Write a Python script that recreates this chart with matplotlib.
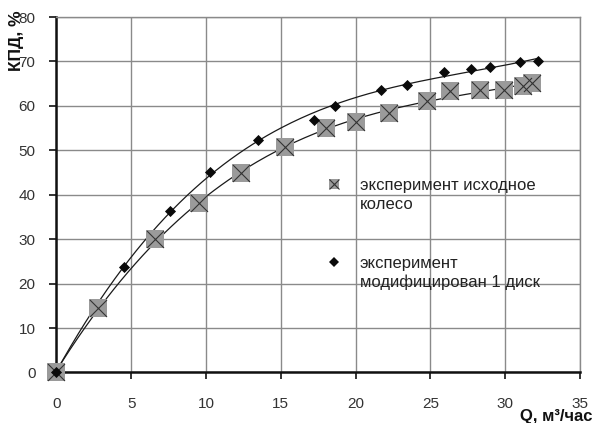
import numpy as np
import matplotlib
matplotlib.use("Agg")
import matplotlib.pyplot as plt

plt.rcParams["font.family"] = ["Liberation Sans", "DejaVu Sans"]

# исходное колесо
q_base = [0, 2.8, 6.6, 9.5, 12.35, 15.3, 18.0, 20.0, 22.2, 24.8, 26.3, 28.3, 29.9, 31.2, 31.8]
eff_base = [0, 14.5, 30.0, 38.1, 44.9, 50.7, 55.0, 56.3, 58.4, 61.1, 63.4, 63.6, 63.5, 64.4, 65.1]

# модифицирован 1 диск
q_mod = [0, 4.5, 7.6, 10.3, 13.5, 17.2, 18.6, 21.7, 23.4, 25.9, 27.7, 29.0, 31.0, 32.2]
eff_mod = [0, 23.8, 36.4, 45.2, 52.4, 56.9, 59.9, 63.6, 64.6, 67.6, 68.3, 68.7, 69.9, 70.0]

label_base = "эксперимент исходное\nколесо"
label_mod = "эксперимент\nмодифицирован 1 диск"

GRAY_SQ = "#9a9a9a"
fig = plt.figure(figsize=(5.98, 4.23), dpi=100)
ax = fig.add_axes([0.0943, 0.1194, 0.8757, 0.8404])

# тренды (полином 3-й степени по точкам)
for q, e in ((q_base, eff_base), (q_mod, eff_mod)):
    c = np.polyfit(q, e, 3)
    xs = np.linspace(0, max(q), 200)
    ax.plot(xs, np.polyval(c, xs), color="#1a1a1a", lw=0.9, zorder=3)

ax.scatter(q_base, eff_base, marker="s", s=150, color=GRAY_SQ, zorder=4,
           linewidths=0, clip_on=False)
ax.scatter(q_base, eff_base, marker="x", s=150, color="#333333", zorder=5,
           linewidths=0.8, clip_on=False)
ax.scatter(q_mod, eff_mod, marker="D", s=32, color="#0a0a0a", zorder=6,
           linewidths=0, clip_on=False)

# легенда вручную: маркер стоит на уровне первой строки подписи
tf = fig.transFigure
mx, tx = 334 / 598, 360 / 598
y1, y2 = 1 - 184 / 423, 1 - 262 / 423
ax.plot([mx], [y1], ls="none", marker="s", ms=7, color=GRAY_SQ, mew=0,
        transform=tf, clip_on=False)
ax.plot([mx], [y1], ls="none", marker="x", ms=7, color="#333333", mew=0.8,
        transform=tf, clip_on=False)
ax.plot([mx], [y2], ls="none", marker="D", ms=5, color="#0a0a0a", mew=0,
        transform=tf, clip_on=False)
for y, lab in ((y1, label_base), (y2, label_mod)):
    fig.text(tx, y + 0.014, lab, ha="left", va="top", fontsize=12,
             color="#222222", linespacing=1.3)

ax.set_xlim(0, 35)
ax.set_ylim(0, 80)
ax.set_xticks(range(0, 36, 5))
ax.set_yticks(range(0, 81, 10))
ax.grid(True, color="#8a8a8a", lw=1.0)
ax.set_axisbelow(True)
for s in ("top", "right"):
    ax.spines[s].set_color("#8a8a8a")
    ax.spines[s].set_linewidth(1.0)
for s in ("left", "bottom"):
    ax.spines[s].set_color("#111111")
    ax.spines[s].set_linewidth(1.8)
ax.tick_params(direction="out", length=5, width=1.2, colors="#111111",
               labelsize=11, labelcolor="#333333")
ax.tick_params(axis="x", pad=13)
ax.tick_params(axis="y", pad=10)

fig.text(0.027, 0.976, "КПД, %", rotation=90, ha="center", va="top",
         fontsize=12.5, fontweight="bold", color="#111111")
fig.text(0.930, 0.0165, "Q, м³/час", ha="center", va="center",
         fontsize=12, fontweight="bold", color="#111111")

fig.savefig("out.png", dpi=100, facecolor="white")
